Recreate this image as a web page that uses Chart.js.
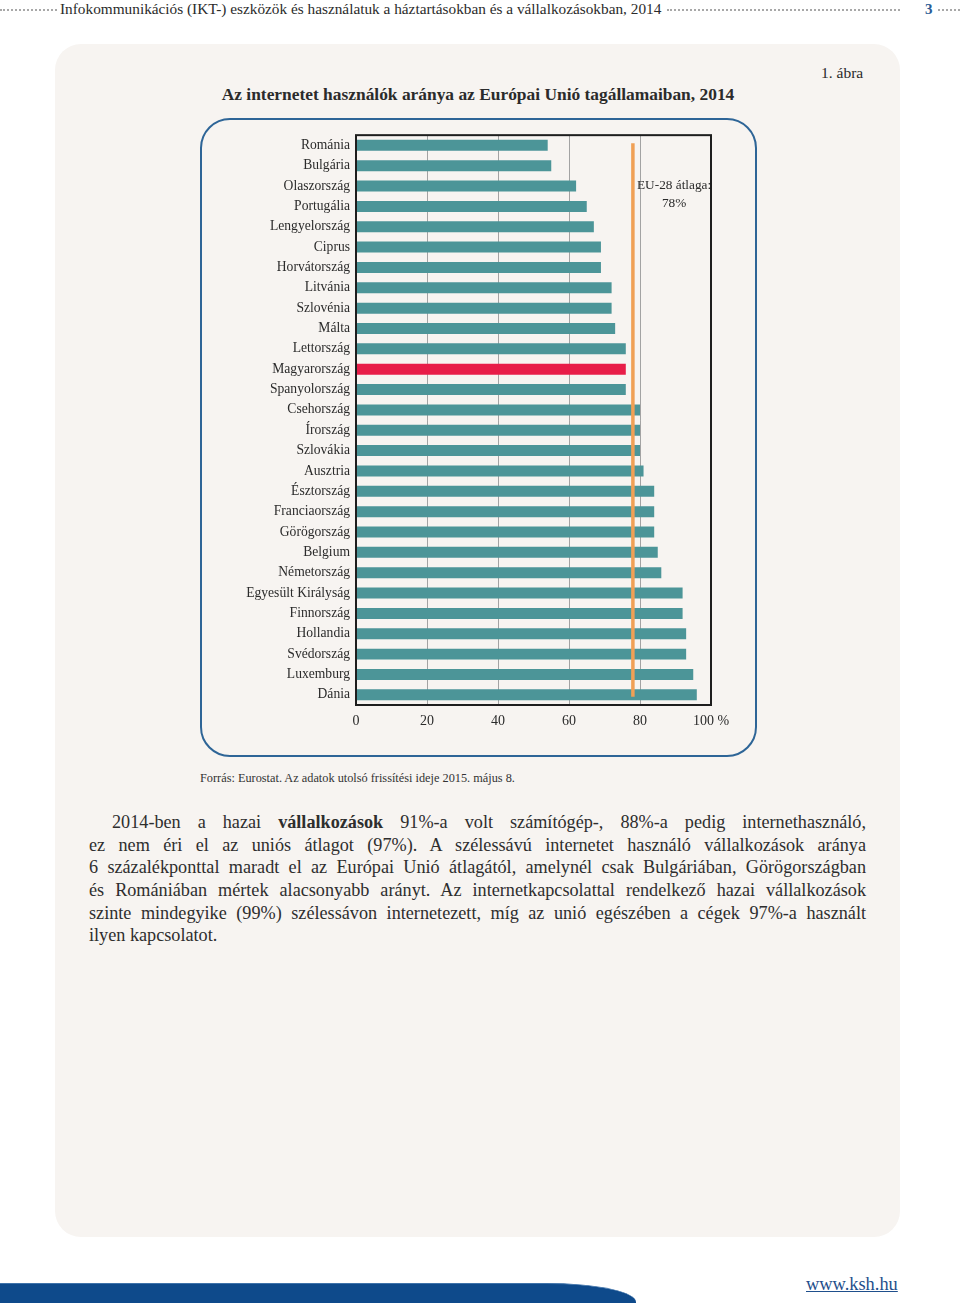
<!DOCTYPE html>
<html lang="hu">
<head>
<meta charset="utf-8">
<script src="https://cdn.jsdelivr.net/npm/chart.js@4.4.1/dist/chart.umd.min.js"></script>
<style>
  body { margin: 0; width: 960px; height: 1308px; background: #fff; position: relative; overflow: hidden;
         font-family: "Liberation Serif", "DejaVu Serif", serif; color: #2b2b2b; }
  .abs { position: absolute; }
  .dots { position: absolute; top: 9px; height: 0; border-top: 2px dotted #a8a8a8; }
  #panel { left: 55px; top: 44px; width: 845px; height: 1193px; background: #f7f4f1; border-radius: 26px; }
  #frame { left: 200px; top: 118px; width: 553px; height: 635px; border: 2px solid #2e6597; border-radius: 30px; }
  .line { white-space: nowrap; text-align: justify; text-align-last: justify; height: 22.7px; }
  #text { left: 89px; top: 811px; width: 777px; font-size: 18.2px; line-height: 22.7px; color: #2e2e2e; }
</style>
</head>
<body>
<div class="dots" style="left:0;width:57px"></div>
<div class="abs" style="left:60px;top:0;font-size:15.3px;line-height:18px;">Infokommunikációs (IKT-) eszközök és használatuk a háztartásokban és a vállalkozásokban, 2014</div>
<div class="dots" style="left:667px;width:233px"></div>
<div class="abs" style="left:925px;top:0;font-size:15px;line-height:18px;color:#2a5b94;font-weight:bold;">3</div>
<div class="dots" style="left:938px;width:22px"></div>

<div id="panel" class="abs"></div>
<div class="abs" style="left:821px;top:64px;font-size:15.5px;">1. ábra</div>
<div class="abs" style="left:128px;top:84px;width:700px;text-align:center;font-size:17.4px;font-weight:bold;">Az internetet használók aránya az Európai Unió tagállamaiban, 2014</div>
<div id="frame" class="abs"></div>
<div class="abs" style="left:205px;top:121px;width:545px;height:629px;">
  <canvas id="barChart" width="545" height="629"></canvas>
</div>
<div class="abs" style="left:200px;top:771px;font-size:12.3px;color:#333;">Forrás: Eurostat. Az adatok utolsó frissítési ideje 2015. május 8.</div>

<div id="text" class="abs">
  <div class="line" style="padding-left:23px">2014-ben a hazai <b>vállalkozások</b> 91%-a volt számítógép-, 88%-a pedig internethasználó,</div>
  <div class="line">ez nem éri el az uniós átlagot (97%). A szélessávú internetet használó vállalkozások aránya</div>
  <div class="line">6 százalékponttal maradt el az Európai Unió átlagától, amelynél csak Bulgáriában, Görögországban</div>
  <div class="line">és Romániában mértek alacsonyabb arányt. Az internetkapcsolattal rendelkező hazai vállalkozások</div>
  <div class="line">szinte mindegyike (99%) szélessávon internetezett, míg az unió egészében a cégek 97%-a használt</div>
  <div class="line" style="text-align-last:left">ilyen kapcsolatot.</div>
</div>

<div class="abs" style="left:0;top:1283px;width:636px;height:19px;background:#0e4a8b;border-top-right-radius:90px 19px;border-top:1px solid #3f73aa;"></div>
<div class="abs" style="left:806px;top:1274px;font-size:18.4px;color:#1f4f8c;text-decoration:underline;">www.ksh.hu</div>

<script>
const countries = ['Románia', 'Bulgária', 'Olaszország', 'Portugália', 'Lengyelország', 'Ciprus',
  'Horvátország', 'Litvánia', 'Szlovénia', 'Málta', 'Lettország', 'Magyarország', 'Spanyolország',
  'Csehország', 'Írország', 'Szlovákia', 'Ausztria', 'Észtország', 'Franciaország', 'Görögország',
  'Belgium', 'Németország', 'Egyesült Királyság', 'Finnország', 'Hollandia', 'Svédország',
  'Luxemburg', 'Dánia'];
const values = [54, 55, 62, 65, 67, 69, 69, 72, 72, 73, 76, 76, 76, 80, 80, 80, 81, 84, 84, 84,
  85, 86, 92, 92, 93, 93, 95, 96];
const xTicks = [0, 20, 40, 60, 80, 100];
const euAverage = 78;
const avgLabel = ['EU-28 átlaga:', '78%'];
const highlight = 'Magyarország';

const barColors = countries.map(c => c == highlight ? '#e81d48' : '#4c9598');

const avgPlugin = {
  id: 'avgLine',
  afterDraw(chart) {
    const ctx = chart.ctx;
    const x = chart.scales.x;
    const y = chart.scales.y;
    const area = chart.chartArea;
    // box around plot
    ctx.save();
    ctx.strokeStyle = '#1e1e1e';
    ctx.lineWidth = 2;
    ctx.strokeRect(area.left, area.top, area.right - area.left, area.bottom - area.top);
    // average line
    const px = x.getPixelForValue(euAverage);
    const step = y.getPixelForValue(1) - y.getPixelForValue(0);
    ctx.strokeStyle = '#f0a055';
    ctx.lineWidth = 3.5;
    ctx.beginPath();
    ctx.moveTo(px, y.getPixelForValue(0) - step * 0.1);
    ctx.lineTo(px, y.getPixelForValue(countries.length - 1) + step * 0.1);
    ctx.stroke();
    // label
    ctx.fillStyle = '#2b2b2b';
    ctx.font = '13.3px "Liberation Serif", serif';
    ctx.textAlign = 'center';
    ctx.textBaseline = 'middle';
    const lx = x.getPixelForValue(89.6);
    ctx.fillText(avgLabel[0], lx, y.getPixelForValue(2) - 1);
    ctx.fillText(avgLabel[1], lx, y.getPixelForValue(2) + 17);
    ctx.restore();
  }
};

const config = {
  type: 'bar',
  data: {
    labels: countries,
    datasets: [{
      data: values,
      backgroundColor: barColors,
      borderWidth: 0,
      categoryPercentage: 1,
      barPercentage: 0.54,
    }],
  },
  options: {
    indexAxis: 'y',
    responsive: false,
    animation: false,
    layout: { padding: { top: 3, right: 39, bottom: 0, left: 0 } },
    plugins: { legend: { display: false }, tooltip: { enabled: false } },
    scales: {
      x: {
        min: 0,
        max: 100,
        afterBuildTicks: axis => { axis.ticks = xTicks.map(v => ({ value: v })); },
        afterFit: axis => { axis.height = 45; },
        ticks: {
          padding: 8,
          color: '#2b2b2b',
          font: { family: '"Liberation Serif", serif', size: 14 },
          callback: v => v == 100 ? '100 %' : v,
        },
        grid: {
          drawTicks: false,
          color: ctx => (ctx.tick && (ctx.tick.value == 0 || ctx.tick.value == 100)) ? 'rgba(0,0,0,0)' : '#a3a3a3',
          lineWidth: 1,
        },
        border: { display: false },
      },
      y: {
        afterFit: axis => { axis.width = 151; },
        ticks: {
          padding: 6,
          color: '#2b2b2b',
          font: { family: '"Liberation Serif", serif', size: 13.6 },
        },
        grid: { display: false, drawTicks: false },
        border: { display: false },
      },
    },
  },
  plugins: [avgPlugin],
};

var barChart = new Chart(document.getElementById('barChart'), config);
</script>
</body>
</html>
